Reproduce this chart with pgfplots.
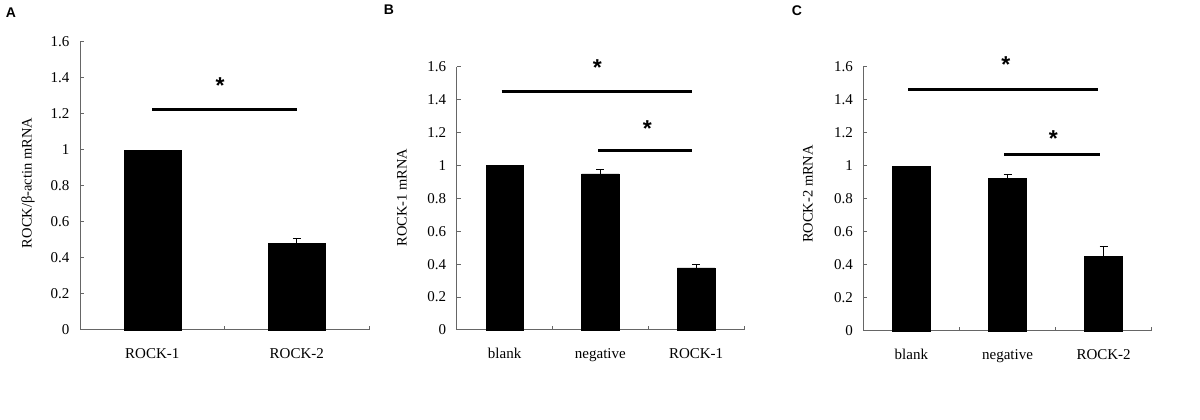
\documentclass[border=0pt]{standalone}
\usepackage{fontspec}
\setmainfont{Liberation Serif}
\newfontfamily\panelfont{Liberation Sans}
\usepackage{pgfplots}
\pgfplotsset{compat=1.18}

\tikzset{sigstar/.style={font=\panelfont\bfseries\fontsize{23}{23}\selectfont, yshift=-4pt}}

\pgfplotsset{
  rockpanel/.style={
    scale only axis,
    anchor=south west,
    axis lines*=left,
    axis line style={black!60, line width=1pt},
    ymin=0, ymax=1.6,
    ytick={0,0.2,0.4,0.6,0.8,1,1.2,1.4,1.6},
    tick align=inside,
    major tick length=4pt,
    tick style={black!60, line width=1pt},
    xmin=-0.5,
    clip=false,
    tick label style={font=\fontsize{15}{18}\selectfont},
    /pgf/number format/assume math mode=true,
    yticklabel style={xshift=-7pt},
    xticklabels={,,,},
    extra x tick style={major tick length=0pt, xticklabel style={yshift=-15pt}},
  },
  plainbars/.style={ybar, bar width=#1, fill=black, draw=black},
  rockbars/.style={
    ybar, bar width=#1, fill=black, draw=black,
    error bars/.cd, y dir=plus, y explicit,
    error mark options={black, rotate=90, mark size=4pt, line width=1pt},
    error bar style={black, line width=1pt},
  },
  sigline/.style={black, line width=3pt, no marks},
}

\begin{document}
\begin{tikzpicture}[x=1pt, y=1pt]
\path[use as bounding box] (0,0) rectangle (1200,420);

% panel labels
\node[font=\panelfont\bfseries\fontsize{14}{16}\selectfont] at (11,407) {A};
\node[font=\panelfont\bfseries\fontsize{14}{16}\selectfont] at (389,410) {B};
\node[font=\panelfont\bfseries\fontsize{14}{16}\selectfont] at (797,409) {C};

% y labels
\node[rotate=90, font=\fontsize{14.5}{16}\selectfont] at (28,237) {ROCK/β-actin mRNA};
\node[rotate=90, font=\fontsize{14.5}{16}\selectfont] at (402,222.5) {ROCK-1 mRNA};
\node[rotate=90, font=\fontsize{14.5}{16}\selectfont] at (808,226) {ROCK-2 mRNA};

% A
\begin{axis}[rockpanel, at={(80pt,90pt)}, width=289pt, height=288.3pt,
    xmax=1.5, xtick={0.5,1.5},
    extra x ticks={0,1}, extra x tick labels={ROCK-1,ROCK-2}]
  \addplot[plainbars=57pt] coordinates {(0,1)};
  \addplot[rockbars=57pt] coordinates {(1,0.48) +- (0,0.027)};
  \addplot[sigline] coordinates {(0,1.221) (1,1.221)};
  \node[sigstar] at (axis cs:0.469,1.376) {*};
\end{axis}

% B
\begin{axis}[rockpanel, at={(456.7pt,90pt)}, width=287.3pt, height=263.3pt,
    xmax=2.5, xtick={0.5,1.5,2.5},
    extra x ticks={0,1,2}, extra x tick labels={blank,negative,ROCK-1}]
  \addplot[plainbars=37.5pt] coordinates {(0,1)};
  \addplot[rockbars=37.5pt] coordinates {(1,0.948) +- (0,0.03) (2,0.377) +- (0,0.022)};
  \addplot[sigline] coordinates {(-0.03,1.452) (1.96,1.452)};
  \addplot[sigline] coordinates {(0.98,1.092) (1.96,1.092)};
  \node[sigstar] at (axis cs:0.968,1.62) {*};
  \node[sigstar] at (axis cs:1.49,1.246) {*};
\end{axis}

% C
\begin{axis}[rockpanel, at={(863.3pt,89pt)}, width=288.4pt, height=264.3pt,
    xmax=2.5, xtick={0.5,1.5,2.5},
    extra x ticks={0,1,2}, extra x tick labels={blank,negative,ROCK-2}]
  \addplot[plainbars=38pt] coordinates {(0,1)};
  \addplot[rockbars=38pt] coordinates {(1,0.924) +- (0,0.026) (2,0.45) +- (0,0.06)};
  \addplot[sigline] coordinates {(-0.03,1.463) (1.94,1.463)};
  \addplot[sigline] coordinates {(0.967,1.07) (1.962,1.07)};
  \node[sigstar] at (axis cs:0.984,1.635) {*};
  \node[sigstar] at (axis cs:1.476,1.19) {*};
\end{axis}
\end{tikzpicture}
\end{document}
